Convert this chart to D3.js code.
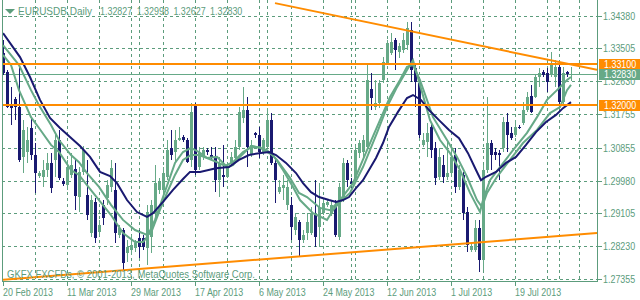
<!DOCTYPE html>
<html lang="en">
<head>
  <meta charset="UTF-8" />
  <title>EURUSDB Daily</title>
  <script src="https://d3js.org/d3.v7.min.js"></script>
  <style>
    body { margin: 0; background: #fff; }
    svg { display: block; background: #fff; }
    text {
      font-family: "Liberation Sans", Arial, sans-serif;
      font-size: 11px;
      fill: #5c9c7c;
    }
  </style>
</head>
<body>
<svg width="640" height="300"></svg>
<script>
  // daily bars, oldest first (index 0 = 20 Feb 2013)
  const open = [1.3338,1.3287,1.3197,1.3215,1.3194,1.3061,1.3074,1.3138,1.3066,1.3010,
    1.3008,1.3026,1.3045,1.3053,1.3106,1.2997,1.2986,1.3013,1.3029,1.2954,
    1.3021,1.2959,1.2858,1.2941,1.2861,1.2933,1.2951,1.2981,1.2973,1.2853,
    1.2866,1.2805,1.2813,1.2818,1.2845,1.2845,1.2818,1.2847,1.2911,1.2973,
    1.2973,1.3008,1.3085,1.3074,1.3106,1.3114,1.3106,1.3053,1.3199,1.3034,
    1.3061,1.3079,1.3066,1.3061,1.2999,1.3013,1.3008,1.3045,1.3058,1.3087,
    1.3165,1.3186,1.3066,1.3125,1.3119,1.3074,1.3087,1.3159,1.3045,1.2967,
    1.2978,1.2933,1.2933,1.2866,1.2887,1.2839,1.2858,1.2858,1.2906,1.2874,
    1.2911,1.2933,1.2911,1.2933,1.2847,1.2946,1.3045,1.2994,1.3005,1.3071,
    1.3074,1.3087,1.3242,1.3194,1.3205,1.3266,1.3311,1.3338,1.3373,1.3341,
    1.3346,1.3359,1.3399,1.3298,1.3258,1.3093,1.3101,1.3141,1.3085,1.3008,
    1.3039,1.3008,1.3018,1.3066,1.2981,1.3013,1.2914,1.2813,1.2813,1.2871,
    1.2786,1.3026,1.3098,1.3074,1.3071,1.3085,1.3154,1.3125,1.3119,1.3141,
    1.3151,1.3186,1.3223,1.3221,1.3274,1.3287,1.3285,1.3279,1.3274,1.3301,
    1.3207,1.3287,1.32827];
  const high = [1.3373,1.3293,1.3247,1.3221,1.3311,1.3159,1.3141,1.3165,1.3098,1.3023,
    1.3053,1.3071,1.3071,1.3119,1.3133,1.3005,1.3053,1.3071,1.3058,1.3034,
    1.3090,1.3053,1.2959,1.2951,1.2893,1.2946,1.2999,1.3053,1.3045,1.2879,
    1.2871,1.2839,1.2853,1.2839,1.2866,1.2853,1.2933,1.2946,1.3039,1.3005,
    1.3034,1.3106,1.3133,1.3133,1.3141,1.3119,1.3111,1.3205,1.3205,1.3087,
    1.3087,1.3085,1.3087,1.3087,1.3061,1.3093,1.3045,1.3074,1.3106,1.3194,
    1.3247,1.3221,1.3106,1.3127,1.3141,1.3111,1.3191,1.3178,1.3058,1.2999,
    1.3013,1.2999,1.2954,1.2911,1.2893,1.2866,1.2911,1.2927,1.2999,1.2991,
    1.2951,1.2946,1.2946,1.2946,1.2991,1.3058,1.3053,1.3005,1.3093,1.3106,
    1.3119,1.3306,1.3285,1.3266,1.3266,1.3327,1.3373,1.3391,1.3378,1.3365,
    1.3391,1.3421,1.3421,1.3306,1.3274,1.3125,1.3151,1.3151,1.3101,1.3085,
    1.3066,1.3106,1.3087,1.3085,1.3039,1.3021,1.2927,1.2831,1.2893,1.2893,
    1.3039,1.3221,1.3106,1.3085,1.3079,1.3167,1.3178,1.3141,1.3159,1.3146,
    1.3207,1.3234,1.3253,1.3279,1.3298,1.3293,1.3298,1.3341,1.3319,1.3311,
    1.3301,1.3290,1.32998];
  const low = [1.3279,1.3191,1.3146,1.3159,1.3047,1.3018,1.3045,1.3053,1.2965,1.3005,
    1.2981,1.3008,1.2965,1.3008,1.2999,1.2983,1.2973,1.3005,1.2919,1.2914,
    1.3013,1.2893,1.2847,1.2831,1.2850,1.2879,1.2933,1.2967,1.2831,1.2845,
    1.2759,1.2781,1.2799,1.2807,1.2791,1.2813,1.2773,1.2805,1.2893,1.2962,
    1.2946,1.2999,1.3053,1.3045,1.3103,1.3101,1.3045,1.3034,1.3013,1.3026,
    1.3053,1.3066,1.3053,1.2967,1.2954,1.2981,1.3005,1.3039,1.3045,1.3079,
    1.3151,1.3034,1.3061,1.3111,1.3058,1.3066,1.3085,1.3039,1.2938,1.2962,
    1.2946,1.2919,1.2839,1.2853,1.2794,1.2831,1.2839,1.2853,1.2821,1.2821,
    1.2906,1.2927,1.2903,1.2847,1.2839,1.2941,1.2981,1.2978,1.2999,1.3058,
    1.3053,1.3085,1.3186,1.3186,1.3191,1.3258,1.3306,1.3333,1.3293,1.3325,
    1.3338,1.3346,1.3261,1.3194,1.3111,1.3087,1.3061,1.3058,1.2986,1.2999,
    1.2991,1.2999,1.3008,1.2965,1.2973,1.2893,1.2807,1.2807,1.2807,1.2754,
    1.2759,1.3018,1.3026,1.3053,1.2999,1.3074,1.3074,1.3106,1.3114,1.3135,
    1.3146,1.3181,1.3178,1.3218,1.3247,1.3274,1.3234,1.3274,1.3247,1.3191,
    1.3199,1.3274,1.32627];
  const close = [1.3285,1.3194,1.3191,1.3194,1.3053,1.3133,1.3106,1.3066,1.3018,1.3018,
    1.3026,1.3045,1.2978,1.3106,1.3005,1.2989,1.3034,1.3039,1.2957,1.3021,
    1.3079,1.2906,1.2946,1.2845,1.2879,1.2898,1.2986,1.3031,1.2858,1.2871,
    1.2778,1.2821,1.2826,1.2831,1.2821,1.2821,1.2914,1.2933,1.2991,1.2994,
    1.3018,1.3079,1.3066,1.3106,1.3111,1.3106,1.3047,1.3181,1.3026,1.3071,
    1.3079,1.3074,1.3061,1.2999,1.3045,1.3008,1.3031,1.3061,1.3087,1.3181,
    1.3186,1.3087,1.3093,1.3119,1.3074,1.3106,1.3159,1.3045,1.2999,1.2981,
    1.2986,1.2981,1.2874,1.2901,1.2839,1.2853,1.2887,1.2911,1.2847,1.2927,
    1.2938,1.2941,1.2933,1.2853,1.2981,1.3045,1.2999,1.2989,1.3079,1.3098,
    1.3106,1.3266,1.3218,1.3205,1.3258,1.3314,1.3365,1.3367,1.3346,1.3357,
    1.3373,1.3405,1.3293,1.3261,1.3119,1.3106,1.3125,1.3079,1.3005,1.3061,
    1.3008,1.3018,1.3061,1.2981,1.3026,1.2911,1.2826,1.2821,1.2871,1.2786,
    1.3026,1.3098,1.3066,1.3066,1.3066,1.3154,1.3119,1.3111,1.3141,1.3138,
    1.3186,1.3221,1.3181,1.3274,1.3285,1.3279,1.3261,1.3311,1.3301,1.3207,
    1.3285,1.3283,1.32830];

  // moving averages: [bar index, price]
  const maSlow = [[0,1.3391],[4.25,1.3327],[6.75,1.3274],[9.25,1.3213],[11.75,1.3165],
    [14.25,1.3138],[16.75,1.3114],[19.25,1.3090],[21.75,1.3061],[24.25,1.3021],
    [26.75,1.3010],[28.5,1.2991],[31,1.2946],[33.5,1.2914],[36,1.2901],[37.5,1.2911],
    [40,1.2941],[42.5,1.2973],[45,1.3002],[46.75,1.3021],[49.25,1.3021],[53.25,1.3031],
    [56.5,1.3034],[59,1.3053],[61.5,1.3066],[64,1.3071],[66.5,1.3074],[68.25,1.3066],
    [70.75,1.3045],[73.25,1.3018],[75,1.2991],[77,1.2967],[79,1.2954],[81.5,1.2946],
    [83.25,1.2941],[85,1.2946],[86.5,1.2954],[88.25,1.2978],[90,1.2999],[91.5,1.3026],
    [93.25,1.3058],[95,1.3098],[96.5,1.3141],[98.75,1.3181],[101,1.3218],[102.5,1.3226],
    [104.5,1.3213],[106.5,1.3186],[109,1.3159],[111.5,1.3133],[114,1.3111],[116.25,1.3071],
    [118.25,1.3026],[119.5,1.2999],[120.75,1.3008],[123.25,1.3021],[125.75,1.3045],
    [128.25,1.3061],[130.75,1.3093],[133.25,1.3127],[135.75,1.3154],[138.25,1.3173],
    [140,1.3191],[142,1.3207]];
  const maMid = [[0,1.3359],[4,1.3306],[7,1.3239],[9,1.3199],[12,1.3146],[14,1.3106],
    [17,1.3066],[19,1.3047],[21,1.3018],[24,1.2981],[27,1.2933],[30,1.2893],[33,1.2866],
    [36,1.2853],[37,1.2858],[39,1.2914],[41,1.2965],[43,1.3013],[45,1.3053],[47,1.3066],
    [49,1.3066],[51,1.3058],[53.5,1.3047],[55.5,1.3037],[57.5,1.3047],[60,1.3074],
    [62.5,1.3090],[66,1.3079],[68.5,1.3053],[71.75,1.3005],[74,1.2965],[76,1.2954],
    [79.25,1.2925],[81.75,1.2919],[84.25,1.2946],[87.5,1.2991],[91,1.3079],[94.25,1.3159],
    [96.75,1.3221],[99.25,1.3266],[101,1.3301],[102.5,1.3306],[104.25,1.3266],[107.5,1.3167],
    [111,1.3106],[113.5,1.3061],[116,1.3008],[118.5,1.2946],[119.75,1.2927],[121,1.2965],
    [123.5,1.3008],[126.75,1.3053],[130,1.3098],[133.5,1.3133],[136.75,1.3178],
    [139.25,1.3194],[141,1.3239],[142,1.3253]];
  const maFast = [[0,1.3333],[2,1.3306],[4,1.3239],[7,1.3167],[9,1.3138],[12,1.3093],
    [14,1.3074],[17,1.3026],[19,1.3013],[21,1.2986],[24,1.2946],[27,1.2906],[30,1.2858],
    [33,1.2834],[35,1.2834],[36,1.2847],[38,1.2893],[40,1.2954],[41.5,1.2999],[43,1.3045],
    [45,1.3074],[47,1.3085],[49,1.3074],[51,1.3058],[53.5,1.3061],[56,1.3034],[57.5,1.3039],
    [59.25,1.3061],[61.75,1.3087],[64.25,1.3087],[66,1.3074],[67.5,1.3066],[70,1.3026],
    [72.5,1.2981],[74.25,1.2946],[77.5,1.2911],[81,1.2893],[82.5,1.2919],[84.25,1.2941],
    [86.75,1.2965],[90,1.3034],[93.5,1.3125],[96,1.3194],[98.5,1.3247],[101,1.3293],
    [102.5,1.3319],[104.25,1.3253],[106.75,1.3159],[109.25,1.3106],[111.75,1.3071],
    [114.25,1.3026],[116.75,1.2965],[119.25,1.2914],[120,1.2946],[121.75,1.2999],
    [124.25,1.3034],[127.5,1.3079],[131,1.3125],[133.5,1.3167],[136,1.3213],
    [138.5,1.3239],[141,1.3266],[142,1.3274]];

  const priceTicks = [1.34380, 1.33505, 1.32630, 1.31755, 1.30855, 1.29980, 1.29105, 1.28230, 1.27355];
  const timeTickBars = [0, 16, 32, 48, 64, 80, 96, 112, 128];
  const timeTickLabels = ["20 Feb 2013", "11 Mar 2013", "29 Mar 2013", "17 Apr 2013", "6 May 2013",
    "24 May 2013", "12 Jun 2013", "1 Jul 2013", "19 Jul 2013"];
  const vGridBars = [8, 16, 24, 32, 34, 40, 48, 56, 64, 66, 72, 80, 87, 88, 96, 104, 112, 120, 128, 136, 139, 144];

  const levels = [1.33100, 1.32000];
  const bid = 1.32830;
  const trendUpper = [[68, 1.3471], [148.5, 1.3293]];
  const trendLower = [[-0.75, 1.2733], [148.5, 1.2858]];

  const symbol = "EURUSDB,Daily";
  const lastOHLC = ["1.32827", "1.32998", "1.32627", "1.32830"];
  const copyright = "GKFX FXCFDs, © 2001-2013, MetaQuotes Software Corp.";

  const green = "#66a987", textGreen = "#5c9c7c", navy = "#191970", orange = "#ff8c00";

  const svg = d3.select("svg");
  const frame = { left: 2, right: 597, top: 0, bottom: 281 };

  const x = d3.scaleLinear().domain([0, 142]).range([3, 571]);
  const y = d3.scaleLinear().domain([1.27355, 1.34380]).range([279, 15.5]);
  const px = v => Math.round(v) + 0.5;

  // the terminal font is tall and narrow: squeeze Arial-metric text horizontally
  function narrow(sel, k = 0.81) {
    sel.each(function () {
      const w = this.getComputedTextLength();
      d3.select(this).attr("textLength", (w * k).toFixed(1)).attr("lengthAdjust", "spacingAndGlyphs");
    });
  }

  svg.append("defs").append("clipPath").attr("id", "clip")
    .append("rect")
    .attr("x", frame.left + 1).attr("y", frame.top)
    .attr("width", frame.right - frame.left - 1).attr("height", frame.bottom - frame.top);

  // grid
  const grid = svg.append("g").attr("stroke", textGreen).attr("stroke-dasharray", "3,3")
    .attr("shape-rendering", "crispEdges");
  grid.selectAll(".hg").data(priceTicks).enter().append("line")
    .attr("x1", frame.left).attr("x2", frame.right)
    .attr("y1", d => px(y(d))).attr("y2", d => px(y(d)));
  grid.selectAll(".vg").data(vGridBars).enter().append("line")
    .attr("x1", d => px(x(d))).attr("x2", d => px(x(d)))
    .attr("y1", frame.top).attr("y2", frame.bottom);

  // frame
  svg.append("path")
    .attr("d", `M${frame.left + 0.5},${frame.top} V${frame.bottom + 0.5} H${frame.right + 0.5} V${frame.top}`)
    .attr("fill", "none").attr("stroke", textGreen).attr("shape-rendering", "crispEdges");

  const plot = svg.append("g").attr("clip-path", "url(#clip)");

  // bid line
  plot.append("line")
    .attr("x1", frame.left).attr("x2", frame.right)
    .attr("y1", px(y(bid))).attr("y2", px(y(bid)))
    .attr("stroke", green).attr("shape-rendering", "crispEdges");

  // candles
  const bars = d3.range(open.length).map(i => ({ i, o: open[i], h: high[i], l: low[i], c: close[i] }));
  const candle = plot.append("g").attr("shape-rendering", "crispEdges");
  candle.selectAll(".wick").data(bars).enter().append("rect")
    .attr("x", d => Math.round(x(d.i)))
    .attr("y", d => Math.round(y(d.h)))
    .attr("width", 1)
    .attr("height", d => Math.max(1, Math.round(y(d.l)) - Math.round(y(d.h))))
    .attr("fill", d => d.c > d.o ? green : navy);
  candle.selectAll(".body").data(bars).enter().append("rect")
    .attr("x", d => Math.round(x(d.i)) - 1)
    .attr("y", d => Math.round(y(Math.max(d.o, d.c))))
    .attr("width", 3)
    .attr("height", d => Math.max(1, Math.round(y(Math.min(d.o, d.c))) - Math.round(y(Math.max(d.o, d.c)))))
    .attr("fill", d => d.c > d.o ? green : navy);

  // moving averages
  const line = d3.line().x(d => x(d[0])).y(d => y(d[1]));
  [[maMid, green], [maFast, green], [maSlow, navy]].forEach(([s, col]) => {
    plot.append("path").attr("d", line(s))
      .attr("fill", "none").attr("stroke", col).attr("stroke-width", 2);
  });

  // horizontal levels and trend lines
  plot.selectAll(".lvl").data(levels).enter().append("line")
    .attr("x1", frame.left).attr("x2", frame.right)
    .attr("y1", d => Math.round(y(d))).attr("y2", d => Math.round(y(d)))
    .attr("stroke", orange).attr("stroke-width", 2).attr("shape-rendering", "crispEdges");
  [trendUpper, trendLower].forEach(t => {
    plot.append("path").attr("d", line(t))
      .attr("fill", "none").attr("stroke", orange).attr("stroke-width", 2);
  });

  // price axis
  const pa = svg.append("g");
  pa.selectAll("line").data(priceTicks).enter().append("line")
    .attr("x1", frame.right + 1).attr("x2", frame.right + 5)
    .attr("y1", d => px(y(d))).attr("y2", d => px(y(d)))
    .attr("stroke", textGreen).attr("shape-rendering", "crispEdges");
  pa.selectAll("text").data(priceTicks).enter().append("text")
    .attr("x", 603).attr("y", d => y(d) + 4)
    .text(d => d.toFixed(5))
    .call(narrow);

  // price labels for the levels and the bid
  const tags = levels.map(v => ({ v, col: orange })).concat([{ v: bid, col: green }]);
  const tag = svg.append("g").selectAll("g").data(tags).enter().append("g")
    .attr("transform", d => `translate(599,${Math.round(y(d.v)) - 5})`);
  tag.append("rect").attr("width", 41).attr("height", 11).attr("fill", d => d.col);
  tag.append("text").attr("x", 5).attr("y", 9).style("fill", "#fff")
    .text(d => d.v.toFixed(5))
    .call(narrow);

  // time axis
  const ta = svg.append("g");
  ta.selectAll("line").data(timeTickBars).enter().append("line")
    .attr("x1", d => px(x(d))).attr("x2", d => px(x(d)))
    .attr("y1", frame.bottom + 1).attr("y2", frame.bottom + 5)
    .attr("stroke", textGreen).attr("shape-rendering", "crispEdges");
  ta.selectAll("text").data(timeTickBars).enter().append("text")
    .attr("x", d => x(d)).attr("y", 296)
    .text((d, i) => timeTickLabels[i])
    .call(narrow);

  // header
  svg.append("path").attr("d", "M5,9 L15,9 L10,14 Z").attr("fill", textGreen);
  svg.append("line").attr("x1", 4).attr("x2", 16).attr("y1", 16.5).attr("y2", 16.5)
    .attr("stroke", textGreen).attr("stroke-dasharray", "3,2");
  svg.append("text").attr("x", 18).attr("y", 15).text(symbol)
    .attr("textLength", 74).attr("lengthAdjust", "spacingAndGlyphs");
  svg.selectAll(".ohlc").data(lastOHLC).enter().append("text")
    .attr("x", (d, i) => 100 + i * 36.7).attr("y", 15).text(d => d)
    .call(narrow);

  svg.append("text").attr("x", 7).attr("y", 278).text(copyright)
    .attr("textLength", 248).attr("lengthAdjust", "spacingAndGlyphs");
</script>
</body>
</html>
